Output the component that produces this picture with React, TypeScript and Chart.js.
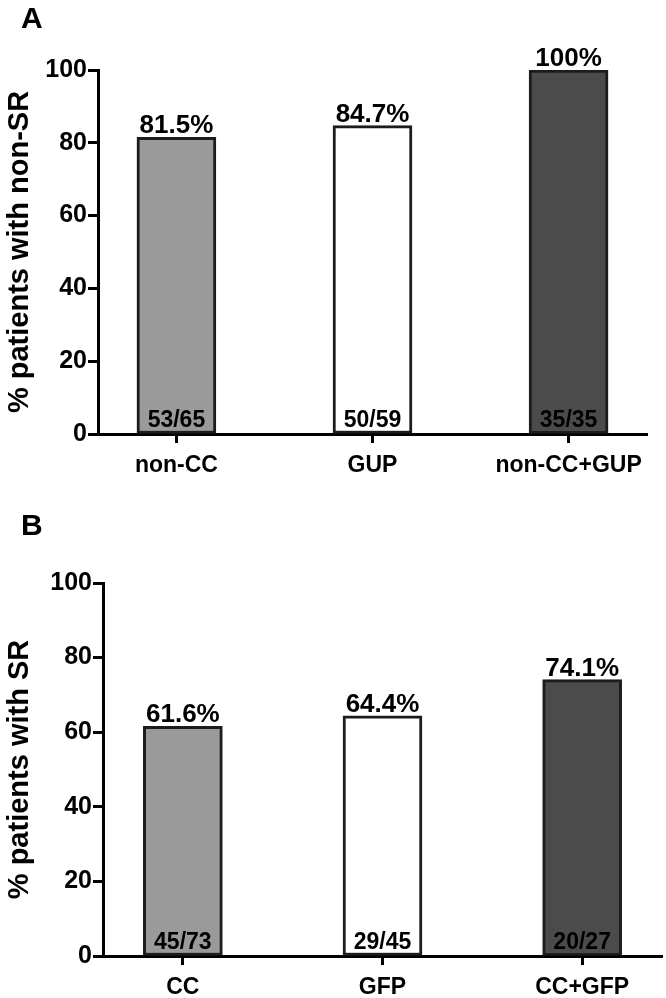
import React, { useEffect, useRef } from "react";
import { Chart, registerables } from "chart.js";

Chart.register(...registerables);

const categoriesA = ["non-CC", "GUP", "non-CC+GUP"];
const valuesA = [81.5, 84.7, 100];
const respondersA = [53, 50, 35];
const totalsA = [65, 59, 35];

const categoriesB = ["CC", "GFP", "CC+GFP"];
const valuesB = [61.6, 64.4, 74.1];
const respondersB = [45, 29, 20];
const totalsB = [73, 45, 27];

const yTicks = [0, 20, 40, 60, 80, 100];
const barColors = ["#9a9a9a", "#ffffff", "#4b4b4b"];

const FONT = "'Liberation Sans', Arial, Helvetica, sans-serif";

type PanelProps = {
  letter: string;
  yTitle: string;
  categories: string[];
  values: number[];
  responders: number[];
  totals: number[];
  height: number;
  area: { left: number; right: number; top: number; bottom: number };
  letterY: number;
};

function Panel(props: PanelProps) {
  const ref = useRef<HTMLCanvasElement | null>(null);
  useEffect(() => {
    const canvas = ref.current;
    if (!canvas) return;
    const { area, height, categories, values, responders, totals } = props;
    const labelPlugin = {
      id: "labels" + props.letter,
      afterDatasetsDraw(chart: any) {
        const ctx = chart.ctx;
        const meta = chart.getDatasetMeta(0);
        ctx.save();
        ctx.fillStyle = "#000";
        ctx.textAlign = "center";
        meta.data.forEach((bar: any, i: number) => {
          ctx.font = `bold 26px ${FONT}`;
          ctx.textBaseline = "alphabetic";
          ctx.fillText(`${values[i]}%`, bar.x, bar.y - 4);
          ctx.font = `bold 23px ${FONT}`;
          ctx.fillText(`${responders[i]}/${totals[i]}`, bar.x, chart.chartArea.bottom - 7);
        });
        ctx.font = `bold 30px ${FONT}`;
        ctx.textAlign = "left";
        ctx.textBaseline = "top";
        ctx.fillText(props.letter, 21, props.letterY);
        ctx.restore();
      },
    };
    const chart = new Chart(canvas, {
      type: "bar",
      data: {
        datasets: [
          {
            data: values.map((v, i) => ({ x: i, y: v })),
            backgroundColor: barColors,
            borderColor: "#1c1c1c",
            borderWidth: 3,
            borderSkipped: false,
            barThickness: 79,
          },
        ],
      },
      options: {
        responsive: false,
        animation: false,
        devicePixelRatio: 1,
        layout: {
          padding: { left: 0, top: area.top, right: 666 - area.right, bottom: 0 },
        },
        plugins: { legend: { display: false }, tooltip: { enabled: false } },
        scales: {
          x: {
            type: "linear",
            offset: false,
            min: -0.4,
            max: 2.4,
            afterBuildTicks: (s: any) => {
              s.ticks = categories.map((_, i) => ({ value: i }));
            },
            afterFit: (s: any) => {
              s.height = height - area.bottom;
            },
            ticks: {
              autoSkip: false,
              maxRotation: 0,
              padding: 9,
              color: "#000",
              font: { family: FONT, size: 23, weight: "bold" },
              callback: (v: any) => categories[v as number] ?? "",
            },
            grid: {
              offset: false,
              drawOnChartArea: false,
              drawTicks: true,
              tickLength: 9,
              tickWidth: 3,
              tickColor: "#000",
            },
            border: { color: "#000", width: 3 },
          },
          y: {
            min: 0,
            max: 100,
            afterBuildTicks: (s: any) => {
              s.ticks = yTicks.map((v) => ({ value: v }));
            },
            afterFit: (s: any) => {
              s.width = area.left;
            },
            ticks: {
              padding: 1,
              color: "#000",
              font: { family: FONT, size: 25, weight: "bold" },
            },
            grid: {
              drawOnChartArea: false,
              drawTicks: true,
              tickLength: 10,
              tickWidth: 3,
              tickColor: "#000",
            },
            border: { color: "#000", width: 3 },
            title: {
              display: true,
              text: props.yTitle,
              color: "#000",
              font: { family: FONT, size: 29, weight: "bold" },
              padding: { top: 3, bottom: 0 },
            },
          },
        },
      },
      plugins: [labelPlugin],
    } as any);
    return () => chart.destroy();
  }, []);
  return (
    <canvas
      ref={ref}
      width={666}
      height={props.height}
      style={{ display: "block", width: 666, height: props.height }}
    />
  );
}

export default function App() {
  return (
    <div
      style={{
        position: "fixed",
        left: 0,
        top: 0,
        width: 666,
        height: 998,
        background: "#fff",
      }}
    >
      <Panel
        letter="A"
        yTitle="% patients with non-SR"
        categories={categoriesA}
        values={valuesA}
        responders={respondersA}
        totals={totalsA}
        height={490}
        area={{ left: 98, right: 647, top: 70, bottom: 434 }}
        letterY={5}
      />
      <Panel
        letter="B"
        yTitle="% patients with SR"
        categories={categoriesB}
        values={valuesB}
        responders={respondersB}
        totals={totalsB}
        height={508}
        area={{ left: 103, right: 662, top: 93, bottom: 466 }}
        letterY={22}
      />
    </div>
  );
}
